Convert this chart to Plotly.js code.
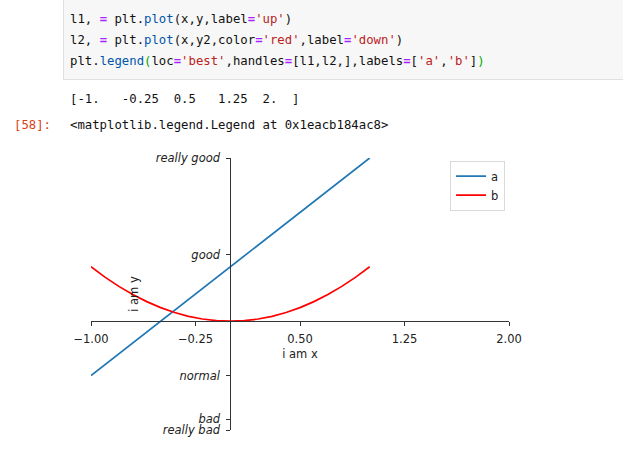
<!DOCTYPE html>
<html>
<head>
<meta charset="utf-8">
<script src="https://cdn.plot.ly/plotly-3.0.1.min.js"></script>
<style>
  html, body { margin:0; padding:0; background:#fff; width:623px; height:462px; overflow:hidden; }
  #chart { position:absolute; left:0; top:0; width:623px; height:462px; }
  .cell { position:absolute; left:63px; top:-2px; width:600px; height:82px; background:#f7f7f7; border:1px solid #e0e0e0; box-sizing:border-box; }
  .line { position:absolute; height:21px; line-height:21px; white-space:pre; font-family:"DejaVu Sans Mono", monospace; font-size:12.3px; color:#111; display:flex; }
  .line span { display:inline-block; }
  .op { color:#aa22ff; font-weight:bold; }
  .pr { color:#0055aa; }
  .st { color:#ba2121; }
  .mb { color:#00aa00; }
  .prompt { color:#d84315; }
</style>
</head>
<body>
<div id="chart"></div>
<div class="cell"></div>
<div class="line" style="left:70px; top:9px;"><span>l1, </span><span class="op">=</span><span> plt.</span><span class="pr">plot</span><span>(x,y,label</span><span class="op">=</span><span class="st">'up'</span><span>)</span></div>
<div class="line" style="left:70px; top:30px;"><span>l2, </span><span class="op">=</span><span> plt.</span><span class="pr">plot</span><span>(x,y2,color</span><span class="op">=</span><span class="st">'red'</span><span>,label</span><span class="op">=</span><span class="st">'down'</span><span>)</span></div>
<div class="line" style="left:70px; top:51px;"><span>plt.</span><span class="pr">legend</span><span class="mb">(</span><span>loc</span><span class="op">=</span><span class="st">'best'</span><span>,handles</span><span class="op">=</span><span>[l1,l2,],labels</span><span class="op">=</span><span>[</span><span class="st">'a'</span><span>,</span><span class="st">'b'</span><span>]</span><span class="mb">)</span></div>
<div class="line" style="left:70px; top:89px;"><span>[-1.   -0.25  0.5   1.25  2.  ]</span></div>
<div class="line prompt" style="left:14px; top:115px;"><span>[58]:</span></div>
<div class="line" style="left:70px; top:115px;"><span>&lt;matplotlib.legend.Legend at 0x1eacb184ac8&gt;</span></div>
<script>
// ---- data ----
const xUp = [-1, 1];
const yUp = [-1, 3];
const xDown = [-1, -0.9, -0.8, -0.7, -0.6, -0.5, -0.4, -0.3, -0.2, -0.1, 0, 0.1, 0.2, 0.3, 0.4, 0.5, 0.6, 0.7, 0.8, 0.9, 1];
const yDown = [1, 0.81, 0.64, 0.49, 0.36, 0.25, 0.16, 0.09, 0.04, 0.01, 0, 0.01, 0.04, 0.09, 0.16, 0.25, 0.36, 0.49, 0.64, 0.81, 1];
const legendNames = ['a', 'b'];
const xTickVals = [-1, -0.25, 0.5, 1.25, 2];
const xTickText = ['\u22121.00', '\u22120.25', '0.50', '1.25', '2.00'];
const yTickVals = [-2, -1.8, -1, 1.22, 3];
const yTickText = ['really bad', 'bad', 'normal', 'good', 'really good'];
const xTitle = 'i am x';
const yTitle = 'i am y';

const font = {family: 'DejaVu Sans, sans-serif', size: 11.5, color: '#222'};

const traces = [
  {x: xUp, y: yUp, mode: 'lines', name: legendNames[0], line: {color: '#1f77b4', width: 1.7}},
  {x: xDown, y: yDown, mode: 'lines', name: legendNames[1], line: {color: '#ff0000', width: 1.7}}
];

const layout = {
  width: 623, height: 462,
  margin: {l: 91, r: 114, t: 158, b: 32, pad: 0},
  paper_bgcolor: 'rgba(0,0,0,0)',
  plot_bgcolor: 'rgba(0,0,0,0)',
  font: font,
  showlegend: true,
  legend: {
    x: 0.859, y: 0.99, xanchor: 'left', yanchor: 'top',
    bgcolor: '#fff', bordercolor: '#d9d9d9', borderwidth: 1,
    font: {family: 'DejaVu Sans, sans-serif', size: 11.5, color: '#222'},
    itemwidth: 30, tracegroupgap: 0
  },
  xaxis: {
    range: [-1, 2], anchor: 'free', position: 0.4,
    showline: true, linecolor: '#333', linewidth: 1,
    ticks: 'outside', ticklen: 4, tickcolor: '#333', tickwidth: 1,
    ticklabelstandoff: 3,
    tickvals: xTickVals, ticktext: xTickText,
    showgrid: false, zeroline: false,
    tickfont: font,
    title: {text: xTitle, font: font, standoff: 4}
  },
  yaxis: {
    range: [-2, 3], anchor: 'free', position: 1/3,
    showline: true, linecolor: '#333', linewidth: 1,
    ticks: 'outside', ticklen: 4, tickcolor: '#333', tickwidth: 1,
    ticklabelstandoff: 4,
    tickvals: yTickVals, ticktext: yTickText,
    showgrid: false, zeroline: false,
    tickfont: {family: 'DejaVu Sans, sans-serif', size: 11.5, color: '#222', style: 'italic'},
    title: {text: yTitle, font: font, standoff: 13}
  }
};

Plotly.newPlot('chart', traces, layout, {staticPlot: true, displayModeBar: false});
</script>
</body>
</html>
